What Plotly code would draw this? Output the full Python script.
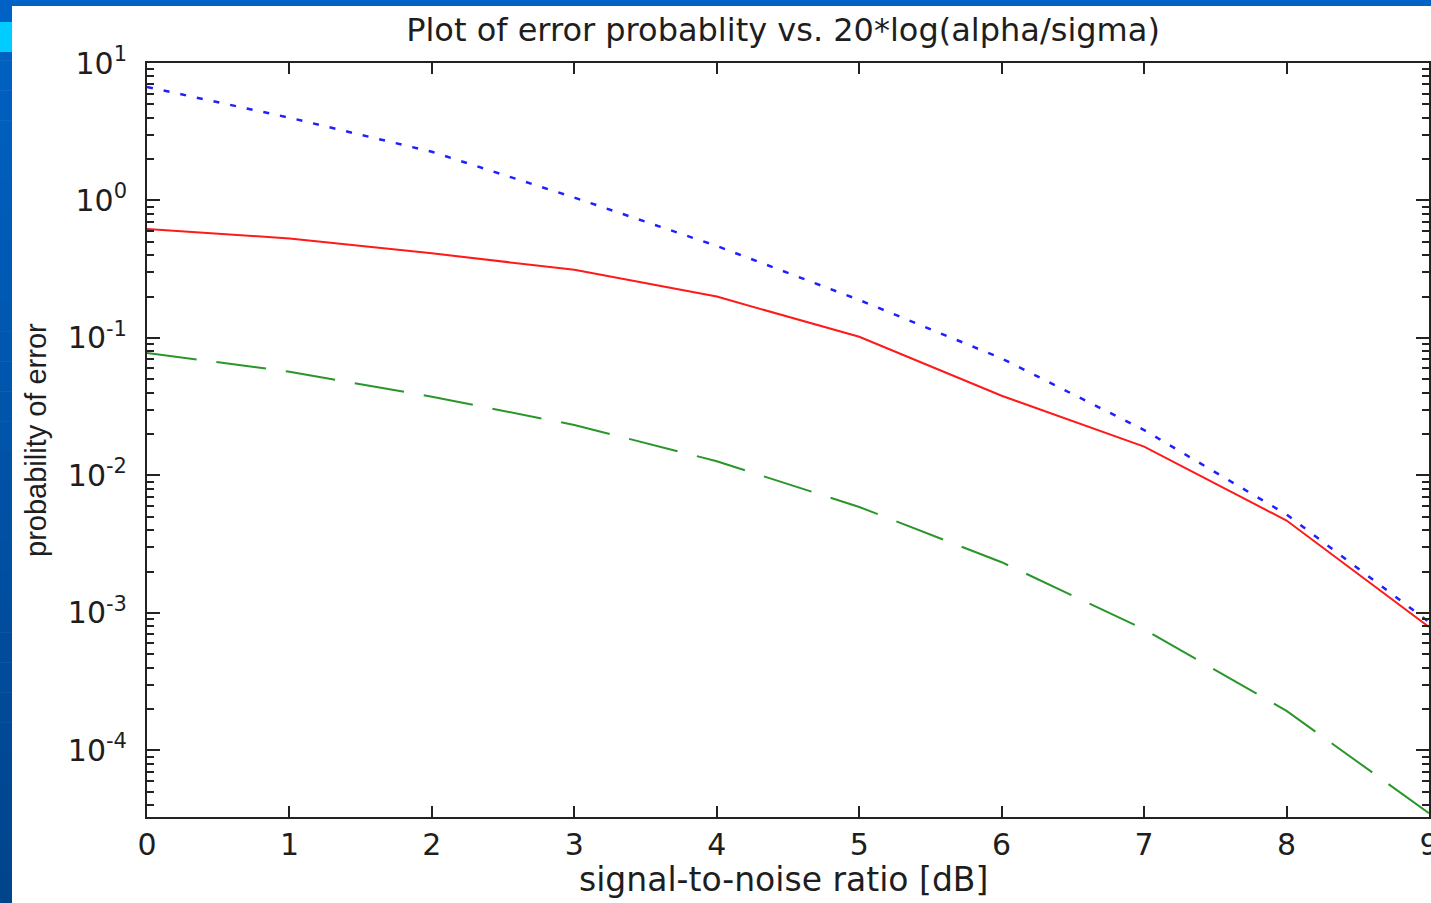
import plotly.graph_objects as go

# ---- data ----
snr_db = [0, 1, 2, 3, 4, 5, 6, 7, 8, 9]
pe_blue = [6.7, 4.0, 2.26, 1.05, 0.467, 0.189, 0.071, 0.0214, 0.0052, 0.00086]
pe_red = [0.62, 0.53, 0.413, 0.313, 0.20, 0.102, 0.038, 0.0162, 0.0047, 0.00079]
pe_green = [0.0778, 0.0569, 0.0374, 0.0233, 0.0127, 0.0059, 0.00234, 0.00076, 0.000194, 0.000035]

x_ticks = [0, 1, 2, 3, 4, 5, 6, 7, 8, 9]
y_exps = [1, 0, -1, -2, -3, -4]
y_tickvals = [10.0 ** e for e in y_exps]
y_ticktext = ["10<sup>%d</sup>" % e for e in y_exps]
minor_vals = [k * 10.0 ** e for e in range(-5, 1) for k in range(2, 10)]

W, H = 1431, 903
L, R, T, B = 147, 2, 63, 86
PW, PH = W - L - R, H - T - B
Y_RANGE = [-4.484, 1]


def px(xp):
    return (xp - L) / PW


def py(yp):
    return (H - B - yp) / PH


TXT = "#1e1e1e"
FONT = "DejaVu Sans"
AX = "#222"

fig = go.Figure()
fig.add_trace(go.Scatter(x=snr_db, y=pe_blue, mode="lines",
                         line=dict(color="#1f1fff", width=2.5, dash="6px,11px")))
fig.add_trace(go.Scatter(x=snr_db, y=pe_red, mode="lines",
                         line=dict(color="#ff1a1a", width=2)))
fig.add_trace(go.Scatter(x=snr_db, y=pe_green, mode="lines",
                         line=dict(color="#2a962a", width=2, dash="50px,20px")))

shapes = []
# left gradient strip
n = 30
c0, c1 = (0, 98, 196), (0, 68, 140)
for i in range(n):
    t = i / (n - 1)
    col = "rgb(%d,%d,%d)" % tuple(round(a + (b - a) * t) for a, b in zip(c0, c1))
    y0 = H * i / n
    y1 = H * (i + 1) / n + 0.5
    shapes.append(dict(type="rect", xref="paper", yref="paper", layer="above",
                       x0=px(0), x1=px(12), y0=py(y1), y1=py(y0),
                       fillcolor=col, line=dict(width=0)))
# top strip
shapes.append(dict(type="rect", xref="paper", yref="paper", layer="above",
                   x0=px(0), x1=px(W), y0=py(6), y1=py(0),
                   fillcolor="rgb(0,98,196)", line=dict(width=0)))
# cyan block
shapes.append(dict(type="rect", xref="paper", yref="paper", layer="above",
                   x0=px(0), x1=px(12), y0=py(52), y1=py(22),
                   fillcolor="rgb(0,204,255)", line=dict(width=0)))

fig.update_layout(
    width=W, height=H,
    margin=dict(l=L, r=R, t=T, b=B, autoexpand=False),
    paper_bgcolor="white", plot_bgcolor="white",
    showlegend=False,
    shapes=shapes,
    title=dict(text="Plot of error probablity vs. 20*log(alpha/sigma)",
               x=783 / W, xanchor="center", xref="container",
               y=1 - 30 / H, yanchor="middle", yref="container",
               font=dict(family=FONT, size=32, color=TXT)),
    annotations=[
        dict(text="signal-to-noise ratio [dB]", xref="paper", yref="paper",
             x=px(783), y=py(880), xanchor="center", yanchor="middle",
             showarrow=False, font=dict(family=FONT, size=33, color=TXT)),
        dict(text="probability of error", xref="paper", yref="paper",
             x=px(36), y=py(440), xanchor="center", yanchor="middle", textangle=-90,
             showarrow=False, font=dict(family="Liberation Sans Narrow, Liberation Sans", size=29, color=TXT)),
    ],
)

fig.update_xaxes(range=[0, 9], tickmode="array", tickvals=x_ticks, automargin=False,
                 ticklabeloverflow="allow",
                 ticks="inside", ticklen=11, tickwidth=2, tickcolor=AX,
                 showline=True, linecolor=AX, linewidth=2, mirror="ticks",
                 showgrid=False, zeroline=False,
                 tickfont=dict(family=FONT, size=30, color=TXT))
fig.update_yaxes(type="log", range=Y_RANGE, tickmode="array", automargin=False,
                 tickvals=y_tickvals, ticktext=y_ticktext, ticklabelstandoff=12,
                 ticks="inside", ticklen=13, tickwidth=2, tickcolor=AX,
                 minor=dict(tickmode="array", tickvals=minor_vals, ticks="inside",
                            ticklen=7, tickwidth=2, tickcolor=AX, showgrid=False),
                 showline=True, linecolor=AX, linewidth=2, mirror="ticks",
                 showgrid=False, zeroline=False,
                 tickfont=dict(family=FONT, size=30, color=TXT))
# right-hand axis carrying the mirrored minor ticks
fig.update_layout(yaxis2=dict(type="log", range=Y_RANGE, overlaying="y", side="right",
                              tickmode="array", tickvals=y_tickvals, showticklabels=False,
                              ticks="inside", ticklen=13, tickwidth=2, tickcolor=AX,
                              minor=dict(tickmode="array", tickvals=minor_vals, ticks="inside",
                                         ticklen=7, tickwidth=2, tickcolor=AX, showgrid=False),
                              showgrid=False, zeroline=False, showline=False, automargin=False))

fig.write_html("out.html", config={"displayModeBar": False},
               post_script="document.body.style.margin='0px';"
               "document.body.style.overflow='hidden';")
